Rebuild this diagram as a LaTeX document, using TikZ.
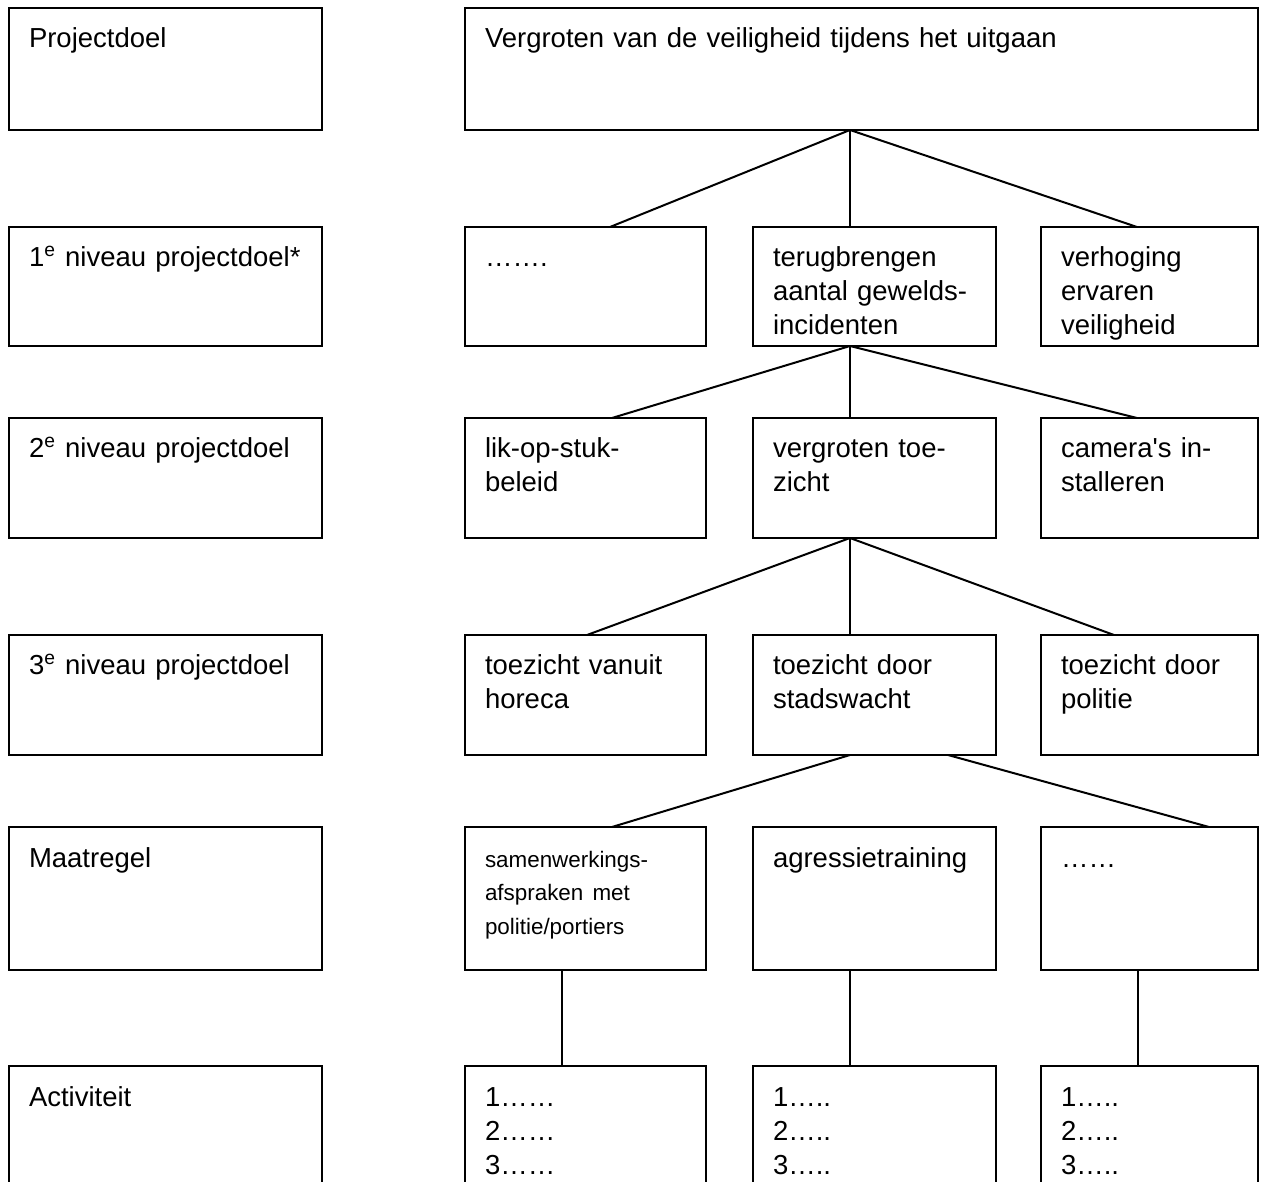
\documentclass[tikz,border=0pt]{standalone}
\usepackage{fontspec}
\setmainfont{Liberation Sans}
\usetikzlibrary{calc}
\def\linkskol{9}
\def\kolA{465}
\def\kolB{753}
\def\kolC{1041}
\def\rijA{8}
\def\rijB{227}
\def\rijC{418}
\def\rijD{635}
\def\rijE{827}
\def\rijF{1066}
\newcommand{\klein}[1]{{\fontsize{11.2}{17}\selectfont #1}}
\newcommand{\niv}[1]{\mbox{#1\textsuperscript{e} niveau projectdoel}}

\begin{document}
\begin{tikzpicture}[x=0.5pt,y=-0.5pt,
  blok/.style 2 args={draw, line width=1pt, outer sep=0pt, anchor=north west,
    inner xsep=10pt, inner ysep=0pt, text width=#1, text height=20pt,
    text depth=#2, align=left, font=\fontsize{13.75}{17}\selectfont},
  lijn/.style={line width=1pt}]

\clip (0,0) rectangle (1266,1182);

% LINKS: niveaus
\node[blok={136.5pt}{41pt}] (projectdoel) at (\linkskol,\rijA) {Projectdoel};
\node[blok={136.5pt}{39.5pt}] (niveau1) at (\linkskol,\rijB) {\niv{1}*};
\node[blok={136.5pt}{40pt}] (niveau2) at (\linkskol,\rijC) {\niv{2}};
\node[blok={136.5pt}{40pt}] (niveau3) at (\linkskol,\rijD) {\niv{3}};
\node[blok={136.5pt}{51.5pt}] (maatregel) at (\linkskol,\rijE) {Maatregel};
\node[blok={136.5pt}{51.5pt}] (activiteit) at (\linkskol,\rijF) {Activiteit};

% DOEL
\node[blok={376.5pt}{41pt}] (doel) at (\kolA,\rijA) {Vergroten van de veiligheid tijdens het uitgaan};

% NIVEAU 1
\node[blok={100.5pt}{39.5pt}] (n1a) at (\kolA,\rijB) {…….};
\node[blok={101.5pt}{39.5pt}] (n1b) at (\kolB,\rijB) {terugbrengen\\aantal gewelds-\\incidenten};
\node[blok={88.5pt}{39.5pt}] (n1c) at (\kolC,\rijB) {verhoging\\ervaren\\veiligheid};

% NIVEAU 2
\node[blok={100.5pt}{40pt}] (n2a) at (\kolA,\rijC) {lik-op-stuk-\\beleid};
\node[blok={101.5pt}{40pt}] (n2b) at (\kolB,\rijC) {vergroten toe-\\zicht};
\node[blok={88.5pt}{40pt}] (n2c) at (\kolC,\rijC) {camera\textquotesingle s in-\\stalleren};

% NIVEAU 3
\node[blok={100.5pt}{40pt}] (n3a) at (\kolA,\rijD) {toezicht vanuit\\horeca};
\node[blok={101.5pt}{40pt}] (n3b) at (\kolB,\rijD) {toezicht door\\stadswacht};
\node[blok={88.5pt}{40pt}] (n3c) at (\kolC,\rijD) {toezicht door\\politie};

% MAATREGEL
\node[blok={100.5pt}{51.5pt}] (m1) at (\kolA,\rijE) {\klein{samenwerkings-\\afspraken met\\politie/portiers}};
\node[blok={101.5pt}{51.5pt}] (m2) at (\kolB,\rijE) {agressietraining};
\node[blok={88.5pt}{51.5pt}] (m3) at (\kolC,\rijE) {……};

% ACTIVITEIT
\node[blok={100.5pt}{51.5pt}] (a1) at (\kolA,\rijF) {1……\\2……\\3……};
\node[blok={101.5pt}{51.5pt}] (a2) at (\kolB,\rijF) {1…..\\2…..\\3…..};
\node[blok={88.5pt}{51.5pt}] (a3) at (\kolC,\rijF) {1…..\\2…..\\3…..};

% verbindingen
\draw[lijn] ($(doel.south west)+(385,0)$) -- ($(n1a.north west)+(145,0)$);
\draw[lijn] ($(doel.south west)+(385,0)$) -- ($(n1b.north west)+(97,0)$);
\draw[lijn] ($(doel.south west)+(385,0)$) -- ($(n1c.north west)+(96,0)$);

\draw[lijn] ($(n1b.south west)+(97,0)$) -- ($(n2a.north west)+(147,0)$);
\draw[lijn] ($(n1b.south west)+(97,0)$) -- ($(n2b.north west)+(97,0)$);
\draw[lijn] ($(n1b.south west)+(97,0)$) -- ($(n2c.north west)+(96,0)$);

\draw[lijn] ($(n2b.south west)+(97,0)$) -- ($(n3a.north west)+(122,0)$);
\draw[lijn] ($(n2b.south west)+(97,0)$) -- ($(n3b.north west)+(97,0)$);
\draw[lijn] ($(n2b.south west)+(97,0)$) -- ($(n3c.north west)+(73,0)$);

\draw[lijn] ($(n3b.south west)+(97,0)$) -- ($(m1.north west)+(147,0)$);
\draw[lijn] ($(n3b.south west)+(195,0)$) -- ($(m3.north west)+(168,0)$);

\draw[lijn] ($(m1.south west)+(97,0)$) -- ($(a1.north west)+(97,0)$);
\draw[lijn] ($(m2.south west)+(97,0)$) -- ($(a2.north west)+(97,0)$);
\draw[lijn] ($(m3.south west)+(97,0)$) -- ($(a3.north west)+(97,0)$);
\end{tikzpicture}
\end{document}
